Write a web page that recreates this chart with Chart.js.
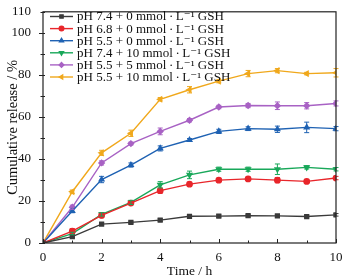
<!DOCTYPE html>
<html>
<head>
<meta charset="utf-8">
<script src="https://cdn.jsdelivr.net/npm/chart.js@4/dist/chart.umd.min.js"></script>
<style>
  html, body { margin: 0; padding: 0; background: #fff; }
  #wrap { width: 343px; height: 278px; }
</style>
</head>
<body>
<div id="wrap"><canvas id="releaseChart" width="343" height="278"></canvas></div>
<script>
const times = [0, 1, 2, 3, 4, 5, 6, 7, 8, 9, 10];
const seriesNames = [
    'pH 7.4 + 0 mmol\u2009·\u2009L⁻¹ GSH',
    'pH 6.8 + 0 mmol\u2009·\u2009L⁻¹ GSH',
    'pH 5.5 + 0 mmol\u2009·\u2009L⁻¹ GSH',
    'pH 7.4 + 10 mmol\u2009·\u2009L⁻¹ GSH',
    'pH 5.5 + 5 mmol\u2009·\u2009L⁻¹ GSH',
    'pH 5.5 + 10 mmol\u2009·\u2009L⁻¹ GSH'
];
const ph74 = [0, 3.0, 9.0, 9.8, 10.9, 12.7, 12.8, 13.0, 12.9, 12.6, 13.4];
const ph68 = [0, 5.6, 13.1, 19.0, 24.9, 28.0, 29.9, 30.5, 29.9, 29.3, 30.9];
const ph55 = [0, 15.2, 30.2, 37.1, 45.0, 49.0, 53.1, 54.4, 54.1, 55.0, 54.4];
const ph74gsh10 = [0, 4.5, 13.6, 19.3, 27.7, 32.4, 35.1, 35.1, 35.1, 36.0, 35.1];
const ph55gsh5 = [0, 17.0, 38.1, 47.3, 53.1, 58.4, 64.7, 65.4, 65.3, 65.3, 66.4];
const ph55gsh10 = [0, 24.4, 42.9, 52.2, 68.4, 72.9, 77.0, 80.6, 82.0, 80.6, 81.0];
// error bar half-widths
const err74 = [0, 0.5, 0.6, 0.6, 0.6, 0.7, 0.6, 0.6, 0.6, 0.6, 0.6];
const err68 = [0, 1.2, 0.8, 0.8, 1.2, 0.8, 0.8, 0.7, 1.2, 0.8, 0.8];
const err55 = [0, 0.8, 1.5, 1.0, 1.2, 0.7, 1.0, 0.9, 1.5, 2.5, 1.0];
const err74g10 = [0, 0.6, 0.8, 1.0, 1.5, 1.8, 1.0, 1.0, 2.5, 0.8, 0.8];
const err55g5 = [0, 1.0, 1.0, 0.7, 1.6, 0.8, 0.8, 1.0, 1.8, 1.5, 1.2];
const err55g10 = [0, 0.8, 1.2, 1.5, 0.8, 1.5, 0.8, 1.5, 1.0, 0.6, 2.0];
const yTicks = [0, 20, 40, 60, 80, 100, 110];

const colors = ['#3a3a3a', '#e8262b', '#1f62b3', '#19a85a', '#a862c4', '#f0a81c'];
const styles = ['rect', 'circle', 'triangle', 'triangle', 'rectRot', 'triangle'];
const rotations = [0, 0, 0, 180, 0, -90];
const values = [ph74, ph68, ph55, ph74gsh10, ph55gsh5, ph55gsh10];
const errors = [err74, err68, err55, err74g10, err55g5, err55g10];

const SERIF = '"Liberation Serif", "DejaVu Serif", serif';

const datasets = seriesNames.map((name, i) => ({
    label: name,
    data: times.map((t, k) => ({ x: t, y: values[i][k] })),
    errs: errors[i],
    borderColor: colors[i],
    backgroundColor: colors[i],
    borderWidth: 1.4,
    pointStyle: styles[i],
    rotation: rotations[i],
    pointRadius: 2.7,
    tension: 0
}));

// error bars, ticks, frame and legend
const extras = {
    id: 'extras',
    afterDatasetsDraw(chart) {
        const ctx = chart.ctx;
        const xs = chart.scales.x, ys = chart.scales.y;
        ctx.save();
        chart.data.datasets.forEach(ds => {
            ctx.strokeStyle = ds.borderColor;
            ctx.lineWidth = 1;
            ds.data.forEach((p, k) => {
                const e = ds.errs[k];
                if (!e) return;
                const px = xs.getPixelForValue(p.x);
                const y1 = ys.getPixelForValue(p.y + e);
                const y2 = ys.getPixelForValue(p.y - e);
                ctx.beginPath();
                ctx.moveTo(px, y1); ctx.lineTo(px, y2);
                ctx.moveTo(px - 2.5, y1); ctx.lineTo(px + 2.5, y1);
                ctx.moveTo(px - 2.5, y2); ctx.lineTo(px + 2.5, y2);
                ctx.stroke();
            });
        });
        ctx.restore();
    },
    afterDraw(chart) {
        const ctx = chart.ctx;
        const a = chart.chartArea;
        const xs = chart.scales.x, ys = chart.scales.y;
        ctx.save();
        ctx.strokeStyle = '#222';
        ctx.lineWidth = 1.2;
        ctx.strokeRect(a.left, a.top, a.right - a.left, a.bottom - a.top);
        ctx.lineWidth = 1;
        ctx.beginPath();
        for (let v = 0; v <= 10; v++) {
            const px = Math.round(xs.getPixelForValue(v)) + 0.5;
            const len = v % 2 === 0 ? 4 : 2.5;
            ctx.moveTo(px, a.bottom); ctx.lineTo(px, a.bottom - len);
        }
        for (let v = 0; v <= 110; v += 10) {
            const py = Math.round(ys.getPixelForValue(v)) + 0.5;
            const len = v % 20 === 0 ? 4 : 2.5;
            ctx.moveTo(a.left - len, py); ctx.lineTo(a.left + 2, py);
        }
        ctx.stroke();

        // legend
        ctx.font = '13px ' + SERIF;
        ctx.textBaseline = 'middle';
        chart.data.datasets.forEach((ds, i) => {
            const y = 16.5 + i * 12.1;
            ctx.strokeStyle = ds.borderColor;
            ctx.lineWidth = 1.4;
            ctx.beginPath();
            ctx.moveTo(50, y); ctx.lineTo(73, y);
            ctx.stroke();
            ctx.fillStyle = ds.borderColor;
            Chart.helpers.drawPoint(ctx, {
                pointStyle: ds.pointStyle, rotation: ds.rotation,
                radius: 2.3, borderWidth: 1
            }, 61.5, y);
            ctx.fillStyle = '#111';
            ctx.fillText(ds.label, 77, y + 0.5);
        });
        ctx.restore();
    }
};

new Chart(document.getElementById('releaseChart'), {
    type: 'line',
    data: { datasets },
    options: {
        responsive: false,
        animation: false,
        layout: { padding: { top: 9, right: 7, left: 0, bottom: 0 } },
        scales: {
            x: {
                type: 'linear', min: 0, max: 10,
                afterFit: s => { s.height = 35; },
                grid: { display: false },
                border: { display: false },
                ticks: { stepSize: 2, padding: -1, color: '#111', font: { family: SERIF, size: 13 } },
                title: { display: true, text: 'Time / h', color: '#111', padding: { top: 0, bottom: -2 }, font: { family: SERIF, size: 13.5 } }
            },
            y: {
                min: 0, max: 110,
                afterFit: s => { s.width = 43; },
                afterBuildTicks: s => { s.ticks = yTicks.map(v => ({ value: v })); },
                grid: { display: false },
                border: { display: false },
                ticks: { padding: 4, color: '#111', font: { family: SERIF, size: 13 } },
                title: { display: true, text: 'Cumulative release / %', color: '#111', padding: { top: 4, bottom: 0 }, font: { family: SERIF, size: 14.5 } }
            }
        },
        plugins: { legend: { display: false }, tooltip: { enabled: false } }
    },
    plugins: [extras]
});
</script>
</body>
</html>
